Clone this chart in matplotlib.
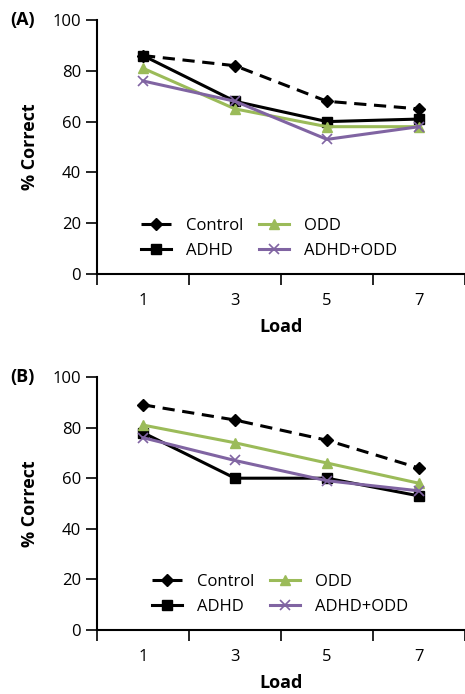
import matplotlib
matplotlib.use("Agg")
import matplotlib.pyplot as plt

plt.rcParams['font.family'] = ['Open Sans', 'DejaVu Sans']

loads = ["1", "3", "5", "7"]
groups = ["Control", "ADHD", "ODD", "ADHD+ODD"]

# panel A
a_control = [86, 82, 68, 65]
a_adhd = [86, 68, 60, 61]
a_odd = [81, 65, 58, 58]
a_both = [76, 68, 53, 58]

# panel B
b_control = [89, 83, 75, 64]
b_adhd = [78, 60, 60, 53]
b_odd = [81, 74, 66, 58]
b_both = [76, 67, 59, 55]

styles = {
    "Control": dict(color="black", ls=(0, (4, 2.5)), marker="D", ms=6.5),
    "ADHD": dict(color="black", ls="-", marker="s", ms=7.5),
    "ODD": dict(color="#9BBB59", ls="-", marker="^", ms=7.5),
    "ADHD+ODD": dict(color="#8064A2", ls="-", marker="x", ms=7.5, mew=1.2),
}

fig = plt.figure(figsize=(4.65, 6.94), dpi=100)
ax_a = fig.add_axes([97 / 465, 420 / 694, 368 / 465, 254 / 694])
ax_b = fig.add_axes([97 / 465, 64 / 694, 368 / 465, 253 / 694])


def draw(ax, series, label, leg_anchor):
    x = range(len(loads))
    for name, vals in zip(groups, series):
        ax.plot(x, vals, lw=2.2, label=name, **styles[name])
    ax.set_xlim(-0.5, 3.5)
    ax.set_ylim(0, 100)
    ax.set_yticks(range(0, 101, 20))
    ax.set_xticks([-0.5, 0.5, 1.5, 2.5, 3.5])
    ax.set_xticklabels([])
    ax.set_xticks(list(x), minor=True)
    ax.set_xticklabels(loads, minor=True)
    ax.tick_params(axis="x", which="major", direction="out", length=8, width=1.2)
    ax.tick_params(axis="x", which="minor", length=0, pad=14, labelsize=12)
    ax.tick_params(axis="y", direction="out", length=8, width=1.2, labelsize=12)
    for s in ["top", "right"]:
        ax.spines[s].set_visible(False)
    for s in ["left", "bottom"]:
        ax.spines[s].set_linewidth(1.5)
    ax.set_xlabel("Load", fontsize=13, fontweight="bold", labelpad=6)
    ax.set_ylabel("% Correct", fontsize=13, fontweight="bold", labelpad=10)
    ax.legend(ncol=2, frameon=False, fontsize=12, loc="lower left",
              bbox_to_anchor=leg_anchor, handlelength=1.8,
              columnspacing=0.9, handletextpad=0.9, labelspacing=0.55)
    bb = ax.get_position()
    fig.text(10 / 465, bb.y1, label, fontsize=13, fontweight="bold",
             ha="left", va="center")


draw(ax_a, [a_control, a_adhd, a_odd, a_both], "(A)", (0.08, 0.0))
draw(ax_b, [b_control, b_adhd, b_odd, b_both], "(B)", (0.11, 0.0))

fig.savefig("out.png", dpi=100)
